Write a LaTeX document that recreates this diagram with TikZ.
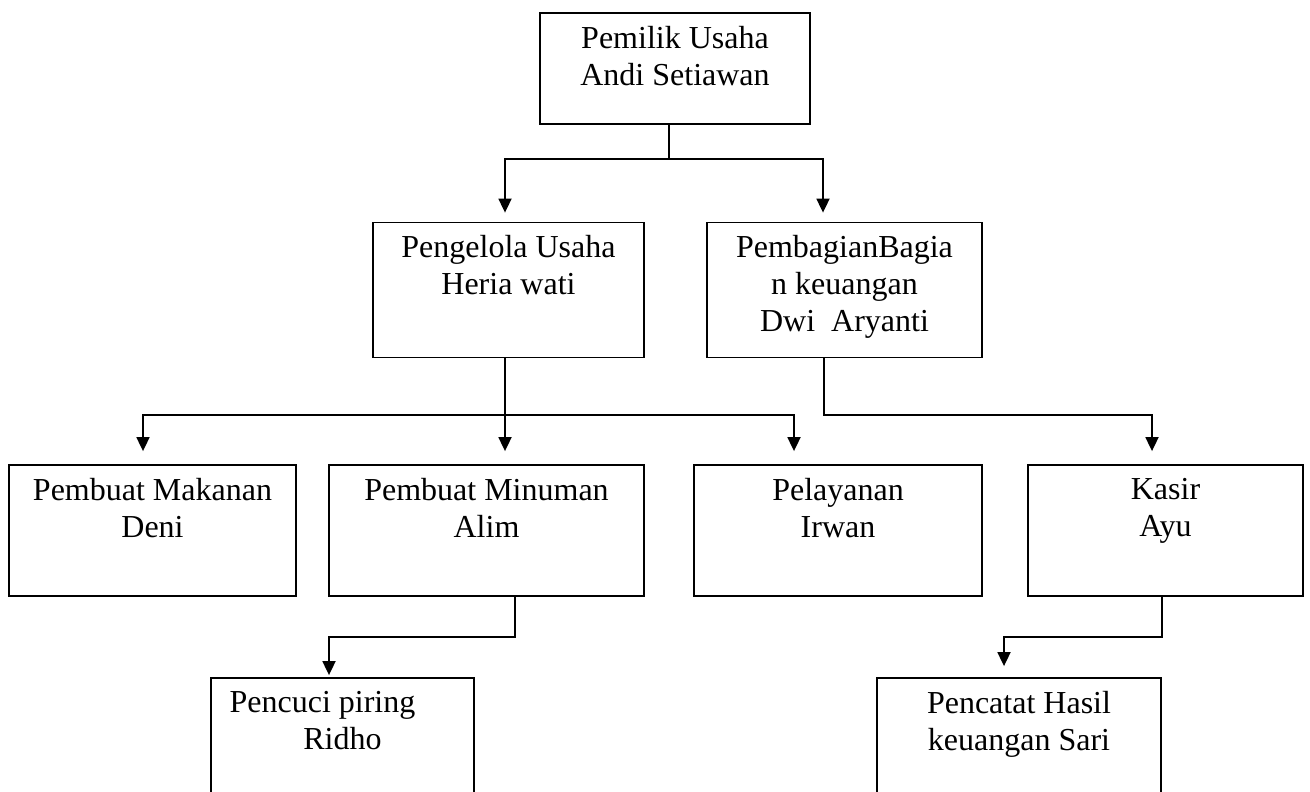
\documentclass[tikz,border=0pt]{standalone}
\usepackage{fontspec}
\setmainfont{Liberation Serif}
\usetikzlibrary{arrows.meta}
\tikzset{kotak/.style={draw, line width=1.8pt, inner sep=0pt},
  teks/.style={anchor=north, align=center, inner sep=0pt, font=\fontsize{32}{37}\selectfont, execute at begin node=\strut},
  garis/.style={line width=1.8pt},
  panah/.style={line width=1.8pt, -{Triangle[width=13pt,length=14pt]}}}

\begin{document}
\begin{tikzpicture}[x=1pt,y=-1pt]
\useasboundingbox (0,0) rectangle (1310,792);
\clip (0,0) rectangle (1310,792);
\node[kotak, minimum width=270pt, minimum height=111pt] (pemilik) at (675,68.5) {};
\node[kotak, minimum width=271pt, minimum height=135pt] (pengelola) at (508.5,290) {};
\node[kotak, minimum width=275pt, minimum height=135pt] (keuangan) at (844.5,290) {};
\node[kotak, minimum width=287pt, minimum height=131pt] (makanan) at (152.5,530.5) {};
\node[kotak, minimum width=315pt, minimum height=131pt] (minuman) at (486.5,530.5) {};
\node[kotak, minimum width=288pt, minimum height=131pt] (pelayanan) at (838,530.5) {};
\node[kotak, minimum width=275pt, minimum height=131pt] (kasir) at (1165.5,530.5) {};
\node[kotak, minimum width=263pt, minimum height=152pt] (pencuci) at (342.5,754) {};
\node[kotak, minimum width=284pt, minimum height=152pt] (pencatat) at (1019,754) {};

\node[teks] (pemilik-t) at ([yshift=-14pt]pemilik.north) {Pemilik Usaha\\Andi Setiawan};
\node[teks] (pengelola-t) at ([yshift=-13pt]pengelola.north) {Pengelola Usaha\\Heria wati};
\node[teks] (keuangan-t) at ([yshift=-13pt]keuangan.north) {PembagianBagia\\n keuangan\\Dwi~~Aryanti};
\node[teks] (makanan-t) at ([yshift=-14pt]makanan.north) {Pembuat Makanan\\Deni};
\node[teks] (minuman-t) at ([yshift=-14pt]minuman.north) {Pembuat Minuman\\Alim};
\node[teks] (pelayanan-t) at ([yshift=-14pt]pelayanan.north) {Pelayanan\\Irwan};
\node[teks] (kasir-t) at ([yshift=-14pt]kasir.north) {Kasir\\Ayu};
\node[teks] (pencuci-t) at ([yshift=-14pt]pencuci.north) {Pencuci piring\hspace*{40pt}\\Ridho};
\node[teks] (pencatat-t) at ([yshift=-14pt]pencatat.north) {Pencatat Hasil\\keuangan Sari};

\coordinate (j1) at ([xshift=-6pt,yshift=-34pt]pemilik.south);
\draw[garis] ([xshift=-6pt]pemilik.south) -- (j1);
\draw[panah, shorten >=9pt] (j1) -| ([xshift=-3.5pt]pengelola.north);
\draw[panah, shorten >=9pt] (j1) -| ([xshift=-21.5pt]keuangan.north);

\coordinate (j2) at ([xshift=-3.5pt,yshift=-56.5pt]pengelola.south);
\draw[garis] ([xshift=-3.5pt]pengelola.south) -- (j2);
\draw[panah, shorten >=13pt] (j2) -| ([xshift=-9.5pt]makanan.north);
\draw[panah, shorten >=13pt] (j2) -- (j2 |- minuman.north);
\draw[panah, shorten >=13pt] (j2) -| ([xshift=-44pt]pelayanan.north);

\coordinate (j3) at ([xshift=-20.5pt,yshift=-56.5pt]keuangan.south);
\draw[panah, shorten >=13pt] ([xshift=-20.5pt]keuangan.south) -- (j3) -| ([xshift=-13.5pt]kasir.north);

\coordinate (j4) at ([xshift=28.5pt,yshift=-40pt]minuman.south);
\draw[panah, shorten >=2pt] ([xshift=28.5pt]minuman.south) -- (j4) -| ([xshift=-13.5pt]pencuci.north);

\coordinate (j5) at ([xshift=-3.5pt,yshift=-40pt]kasir.south);
\draw[panah, shorten >=11pt] ([xshift=-3.5pt]kasir.south) -- (j5) -| ([xshift=-15pt]pencatat.north);
\end{tikzpicture}
\end{document}
